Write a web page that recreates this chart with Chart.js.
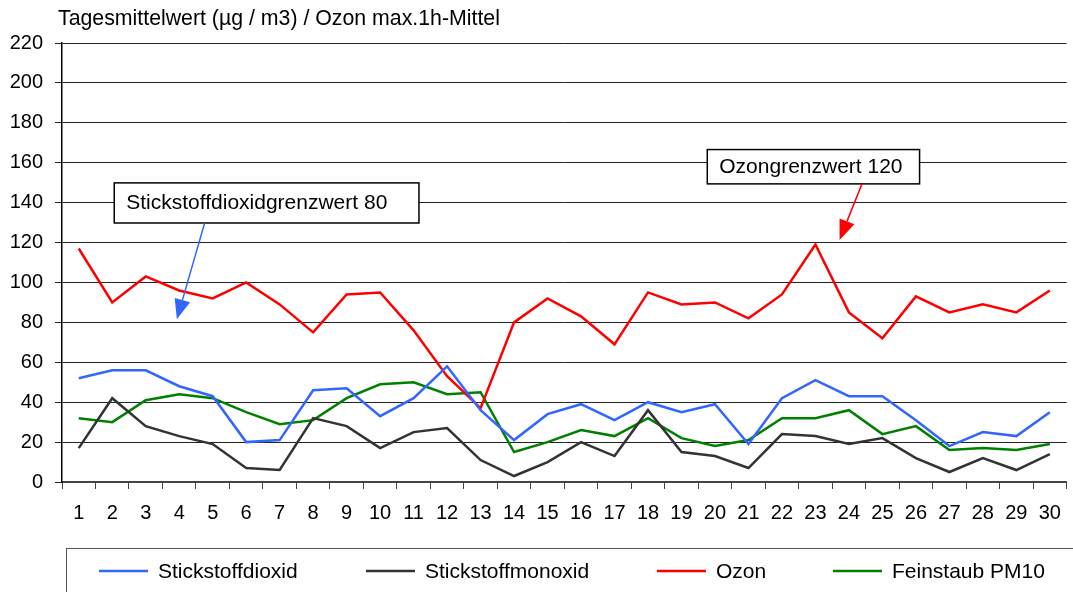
<!DOCTYPE html>
<html><head><meta charset="utf-8">
<script src="https://cdn.jsdelivr.net/npm/chart.js@4/dist/chart.umd.min.js"></script>
<style>html,body{margin:0;padding:0;background:#fff;overflow:hidden}</style>
</head><body>
<canvas id="c" width="1073" height="592"></canvas>
<script>
const days = ['1','2','3','4','5','6','7','8','9','10','11','12','13','14','15','16','17','18','19','20','21','22','23','24','25','26','27','28','29','30'];
const stickstoffdioxid = [52,56,56,48,43,20,21,46,47,33,42,58,36,21,34,39,31,40,35,39,19,42,51,43,43,31,18,25,23,35];
const stickstoffmonoxid = [17,42,28,23,19,7,6,32,28,17,25,27,11,3,10,20,13,36,15,13,7,24,23,19,22,12,5,12,6,14];
const ozon = [117,90,103,96,92,100,89,75,94,95,76,53,37,80,92,83,69,95,89,90,82,94,119,85,72,93,85,89,85,96];
const feinstaub = [32,30,41,44,42,35,29,31,42,49,50,44,45,15,20,26,23,32,22,18,21,32,32,36,24,28,16,17,16,19];
const yTicks = [0,20,40,60,80,100,120,140,160,180,200,220];
const axisTitle = 'Tagesmittelwert (µg / m3) / Ozon max.1h-Mittel';

const FONT = '"Liberation Sans", Arial, sans-serif';

// annotations anchored in data units (category index, value)
const notes = [
  {text:'Stickstoffdioxidgrenzwert 80', x0:1.06, x1:10.16, yTop:149.9, yBot:129.8, color:'#3366ff', from:[3.76,129.8], to:[2.93,81.5]},
  {text:'Ozongrenzwert 120', x0:18.77, x1:25.11, yTop:166.6, yBot:149.4, color:'#ff0000', from:[23.39,149.4], to:[22.72,121.3]}
];

const extras = {
  id:'extras',
  afterDraw(chart){
    const ctx = chart.ctx, xs = chart.scales.x, ys = chart.scales.y;
    ctx.save();
    // axis title
    ctx.fillStyle = '#000';
    ctx.font = '21.3px ' + FONT;
    ctx.textBaseline = 'middle';
    ctx.textAlign = 'left';
    ctx.fillText(axisTitle, 58, 19);
    // annotations
    notes.forEach(n => {
      const l = xs.getPixelForValue(n.x0), r = xs.getPixelForValue(n.x1);
      const t = ys.getPixelForValue(n.yTop), b = ys.getPixelForValue(n.yBot);
      ctx.fillStyle = '#fff';
      ctx.fillRect(l, t, r-l, b-t);
      ctx.strokeStyle = '#000'; ctx.lineWidth = 1.5;
      ctx.strokeRect(l, t, r-l, b-t);
      ctx.fillStyle = '#000'; ctx.font = '21px ' + FONT;
      ctx.textAlign = 'left'; ctx.textBaseline = 'middle';
      ctx.fillText(n.text, l + 12, (t+b)/2);
      const fx = xs.getPixelForValue(n.from[0]), fy = ys.getPixelForValue(n.from[1]);
      const tx = xs.getPixelForValue(n.to[0]), ty = ys.getPixelForValue(n.to[1]);
      const ang = Math.atan2(ty-fy, tx-fx);
      const hl = 20, hw = 8;
      const bx = tx - hl*Math.cos(ang), by = ty - hl*Math.sin(ang);
      ctx.strokeStyle = n.color; ctx.lineWidth = 1.5;
      ctx.beginPath(); ctx.moveTo(fx, fy); ctx.lineTo(bx, by); ctx.stroke();
      ctx.fillStyle = n.color;
      ctx.beginPath();
      ctx.moveTo(tx, ty);
      ctx.lineTo(bx + hw*Math.sin(ang), by - hw*Math.cos(ang));
      ctx.lineTo(bx - hw*Math.sin(ang), by + hw*Math.cos(ang));
      ctx.closePath(); ctx.fill();
    });
    // legend box
    ctx.strokeStyle = '#555'; ctx.lineWidth = 1;
    ctx.strokeRect(66.5, 548.5, 1100, 100);
    const lx = [99, 366, 657, 833];
    ctx.font = '21px ' + FONT; ctx.textBaseline = 'middle'; ctx.textAlign = 'left';
    chart.data.datasets.forEach((ds, i) => {
      ctx.strokeStyle = ds.borderColor; ctx.lineWidth = 2.5;
      ctx.beginPath(); ctx.moveTo(lx[i], 571); ctx.lineTo(lx[i] + 49, 571); ctx.stroke();
      ctx.fillStyle = '#000';
      ctx.fillText(ds.label, lx[i] + 59, 572);
    });
    ctx.restore();
  }
};

new Chart(document.getElementById('c'), {
  type:'line',
  data:{
    labels: days,
    datasets:[
      {label:'Stickstoffdioxid', data:stickstoffdioxid, borderColor:'#3366ff'},
      {label:'Stickstoffmonoxid', data:stickstoffmonoxid, borderColor:'#333333'},
      {label:'Ozon', data:ozon, borderColor:'#ff0000'},
      {label:'Feinstaub PM10', data:feinstaub, borderColor:'#008000'}
    ].map(d => Object.assign(d, {borderWidth:2.5, pointRadius:0, tension:0, fill:false}))
  },
  options:{
    responsive:false, animation:false, devicePixelRatio:1,
    layout:{padding:{top:43, right:2, left:0, bottom:0}},
    plugins:{legend:{display:false}, tooltip:{enabled:false}, title:{display:false}},
    scales:{
      x:{
        offset:true,
        grid:{offset:true, drawOnChartArea:false, drawTicks:true, tickLength:7, color:'#444'},
        border:{color:'#444', width:2},
        ticks:{color:'#000', font:{size:20, family:FONT}, padding:12, maxRotation:0, autoSkip:false},
        afterFit(s){ s.height = 110; }
      },
      y:{
        min:0, max:220,
        afterBuildTicks(s){ s.ticks = yTicks.map(v => ({value:v})); },
        grid:{color:'#222', lineWidth:1, tickLength:7},
        border:{color:'#000', width:1.5},
        ticks:{color:'#000', font:{size:20, family:FONT}, padding:12},
        afterFit(s){ s.width = 62; }
      }
    }
  },
  plugins:[extras]
});
</script>
</body></html>
